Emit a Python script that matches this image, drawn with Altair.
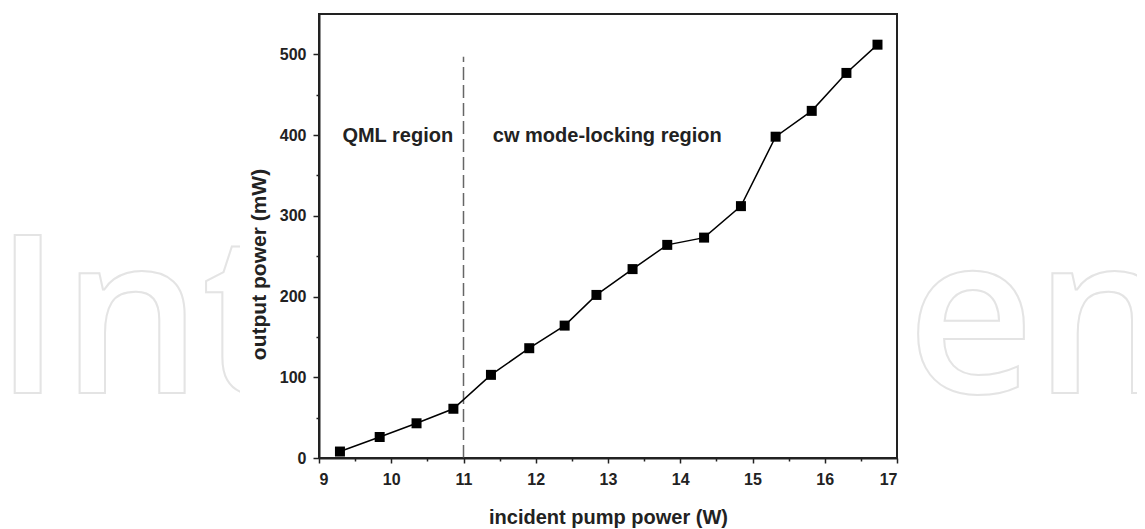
import altair as alt
import pandas as pd

# ---- data ----
pump_power = [9.29, 9.84, 10.35, 10.86, 11.38, 11.91, 12.40, 12.84, 13.34, 13.82,
              14.33, 14.84, 15.32, 15.82, 16.30, 16.73]
output_power = [8, 26, 43, 61, 103, 136, 164, 202, 234, 264, 273, 312, 398, 430, 477, 512]

x_major = [9, 10, 11, 12, 13, 14, 15, 16, 17]
x_minor = [9.5, 10.5, 11.5, 12.5, 13.5, 14.5, 15.5, 16.5]
y_major = [0, 100, 200, 300, 400, 500]
y_minor = [50, 150, 250, 350, 450]

threshold_x = [11]
threshold_top = [497]

region_labels = ["QML region", "cw mode-locking region"]
region_x = [10.09, 12.99]
region_y = [391, 391]

watermark_parts = ["Int", "en"]

FONT = "Liberation Sans"
W, H = 578, 444

df = pd.DataFrame({"pump": pump_power, "out": output_power})
rule_df = pd.DataFrame({"x": threshold_x, "y0": [0], "y1": threshold_top})
lab_df = pd.DataFrame({"label": region_labels, "x": region_x, "y": region_y})

xs = alt.Scale(domain=[9, 17], nice=False)
ys = alt.Scale(domain=[0, 550], nice=False)

# watermark (outlined, light grey)
wm_left = alt.Chart(pd.DataFrame({"t": [watermark_parts[0]]})).mark_text(
    font="Open Sans", fontSize=221, fontWeight=600, align="left", baseline="alphabetic",
    fill="white", fillOpacity=0, stroke="#e4e4e4", strokeWidth=2
).encode(text="t:N", x=alt.value(-325), y=alt.value(379))
wm_right = alt.Chart(pd.DataFrame({"t": [watermark_parts[1]]})).mark_text(
    font="Open Sans", fontSize=221, fontWeight=600, align="left", baseline="alphabetic",
    fill="white", fillOpacity=0, stroke="#e4e4e4", strokeWidth=2
).encode(text="t:N", x=alt.value(588), y=alt.value(379))
cover = alt.Chart(pd.DataFrame({"a": [0]})).mark_rect(color="white").encode(
    x=alt.value(-79), x2=alt.value(-2), y=alt.value(-6), y2=alt.value(520)
)

line = alt.Chart(df).mark_line(color="black", strokeWidth=1.5).encode(
    x=alt.X("pump:Q", scale=xs, axis=alt.Axis(
        values=x_major, tickSize=5, labelPadding=8, title="incident pump power (W)",
        titleFontSize=20, titleY=65, titleBaseline="alphabetic", format="d", zindex=2)),
    y=alt.Y("out:Q", scale=ys, axis=alt.Axis(
        values=y_major, tickSize=6, labelPadding=7, title="output power (mW)",
        titleFontSize=21, titleX=-60, titleY=250, titleBaseline="middle",
        titleAngle=270, format="d", zindex=2)),
)
pts = alt.Chart(df).mark_square(size=100, color="black", opacity=1).encode(
    x=alt.X("pump:Q", scale=xs, axis=alt.Axis(
        values=x_minor, tickSize=3, labels=False, domain=False, title=None, orient="bottom", zindex=2)),
    y=alt.Y("out:Q", scale=ys, axis=alt.Axis(
        values=y_minor, tickSize=3, labels=False, domain=False, title=None, orient="left", zindex=2)),
)
rule = alt.Chart(rule_df).mark_rule(color="#666666", strokeWidth=1.5, strokeDash=[13, 5]).encode(
    x=alt.X("x:Q", scale=xs, axis=None), y=alt.Y("y0:Q", scale=ys, axis=None), y2="y1:Q"
)
labels = alt.Chart(lab_df).mark_text(
    font=FONT, fontSize=20, fontWeight="bold", color="#222222", align="center", baseline="alphabetic"
).encode(x=alt.X("x:Q", scale=xs, axis=None), y=alt.Y("y:Q", scale=ys, axis=None), text="label:N")

chart = alt.layer(wm_left, wm_right, cover, rule, line, pts, labels).resolve_axis(
    x="independent", y="independent"
).properties(
    width=W, height=H,
    autosize=alt.AutoSizeParams(type="none"),
    padding={"left": 311, "top": 6, "right": 240, "bottom": 70},
    background="white",
).configure_view(
    stroke="#222222", strokeWidth=2
).configure_axis(
    grid=False, domainColor="#222222", domainWidth=2, tickColor="#222222", tickWidth=1.5,
    labelColor="#222222", labelFont=FONT, labelFontWeight="bold", labelFontSize=16,
    titleColor="#222222", titleFont=FONT, titleFontWeight="bold",
)

chart.save("out.html", embed_options={"renderer": "svg", "actions": False})
